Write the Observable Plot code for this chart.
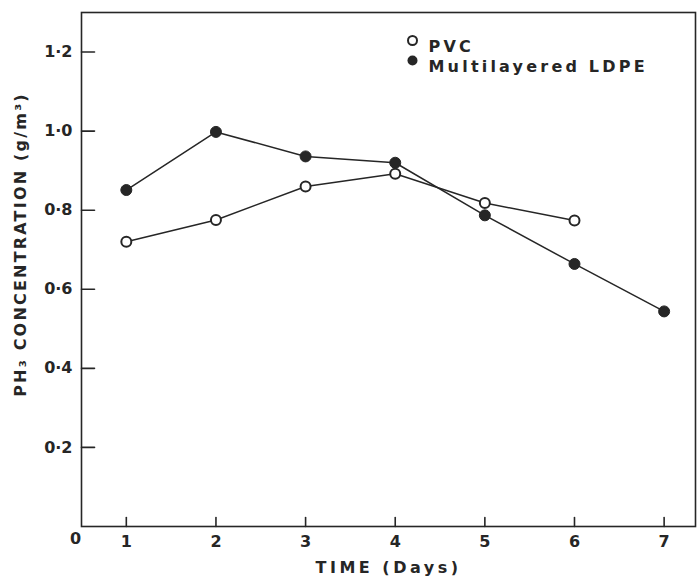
<!DOCTYPE html>
<html>
<head>
<meta charset="utf-8">
<script src="https://cdn.jsdelivr.net/npm/d3@7"></script>
<script src="https://cdn.jsdelivr.net/npm/@observablehq/plot@0.6"></script>
<style>
  html, body { margin: 0; padding: 0; background: #fff; }
  svg { font-family: "DejaVu Sans", sans-serif; }
</style>
</head>
<body>
<div id="chart"></div>
<script>
const days = [1, 2, 3, 4, 5, 6, 7];
const pvc = [0.72, 0.775, 0.86, 0.892, 0.818, 0.774];
const ldpe = [0.851, 0.998, 0.936, 0.92, 0.787, 0.664, 0.544];
const xTicks = [1, 2, 3, 4, 5, 6, 7];
const yTicks = [0.2, 0.4, 0.6, 0.8, 1.0, 1.2];
const yTickLabels = ["0·2", "0·4", "0·6", "0·8", "1·0", "1·2"];
const seriesNames = ["PVC", "Multilayered LDPE"];
const xLabel = "TIME (Days)";
const yLabel = "PH₃ CONCENTRATION (g/m³)";

const pvcData = pvc.map((v, i) => ({day: days[i], value: v}));
const ldpeData = ldpe.map((v, i) => ({day: days[i], value: v}));
const ink = "#262626";
const tickShape = {draw(ctx, l) { ctx.moveTo(0, 0); ctx.lineTo(0, -l); }};
const font = {fontFamily: "DejaVu Sans", fontWeight: "bold", fill: ink};

const chart = Plot.plot({
  width: 697,
  height: 581,
  marginLeft: 81,
  marginRight: 2,
  marginTop: 12,
  marginBottom: 55,
  x: {domain: [0.5, 7.35], axis: null},
  y: {domain: [0, 1.3], axis: null},
  marks: [
    Plot.frame({stroke: ink, strokeWidth: 1.6}),
    Plot.vector(yTicks, {y: d => d, frameAnchor: "left", rotate: 90, length: 13, anchor: "start", shape: tickShape, stroke: ink, strokeWidth: 1.6}),
    Plot.vector(xTicks, {x: d => d, frameAnchor: "bottom", rotate: 0, length: 9, anchor: "start", shape: tickShape, stroke: ink, strokeWidth: 1.6}),
    Plot.text(yTicks, {y: d => d, frameAnchor: "left", dx: -9, textAnchor: "end", text: (d, i) => yTickLabels[i], fontSize: 16, ...font}),
    Plot.text(xTicks, {x: d => d, frameAnchor: "bottom", dy: 15, lineAnchor: "middle", text: d => String(d), fontSize: 16, ...font}),
    Plot.text(["0"], {frameAnchor: "bottom-left", dx: -6, dy: 12, textAnchor: "middle", lineAnchor: "middle", text: d => d, fontSize: 16, ...font}),
    Plot.text([xLabel], {frameAnchor: "bottom", dy: 46, text: d => d, fontSize: 16, ...font}),
    Plot.text([yLabel], {frameAnchor: "left", dx: -61, dy: -25, rotate: -90, textAnchor: "middle", text: d => d, fontSize: 16, ...font}),
    Plot.line(ldpeData, {x: "day", y: "value", stroke: ink, strokeWidth: 1.5}),
    Plot.line(pvcData, {x: "day", y: "value", stroke: ink, strokeWidth: 1.5}),
    Plot.dot(pvcData, {x: "day", y: "value", r: 5, fill: "white", stroke: ink, strokeWidth: 2}),
    Plot.dot(ldpeData, {x: "day", y: "value", r: 5.5, fill: ink, stroke: ink, strokeWidth: 1}),
    Plot.dot([seriesNames[0]], {frameAnchor: "top-left", dx: 331, dy: 28, r: 4.5, fill: "white", stroke: ink, strokeWidth: 2}),
    Plot.dot([seriesNames[1]], {frameAnchor: "top-left", dx: 331, dy: 48, r: 5, fill: ink}),
    Plot.text([seriesNames[0]], {frameAnchor: "top-left", dx: 347, dy: 28, text: d => d, textAnchor: "start", fontSize: 16, ...font}),
    Plot.text([seriesNames[1]], {frameAnchor: "top-left", dx: 347, dy: 48, text: d => d, textAnchor: "start", fontSize: 16, ...font}),
  ]
});
const spacing = new Map([[xLabel, "3.5px"], [yLabel, "2.2px"], [seriesNames[0], "3.2px"], [seriesNames[1], "3.2px"]]);
d3.select(chart).selectAll("text").each(function() {
  const s = spacing.get(this.textContent);
  if (s) this.style.letterSpacing = s;
});
document.getElementById("chart").appendChild(chart);
</script>
</body>
</html>
